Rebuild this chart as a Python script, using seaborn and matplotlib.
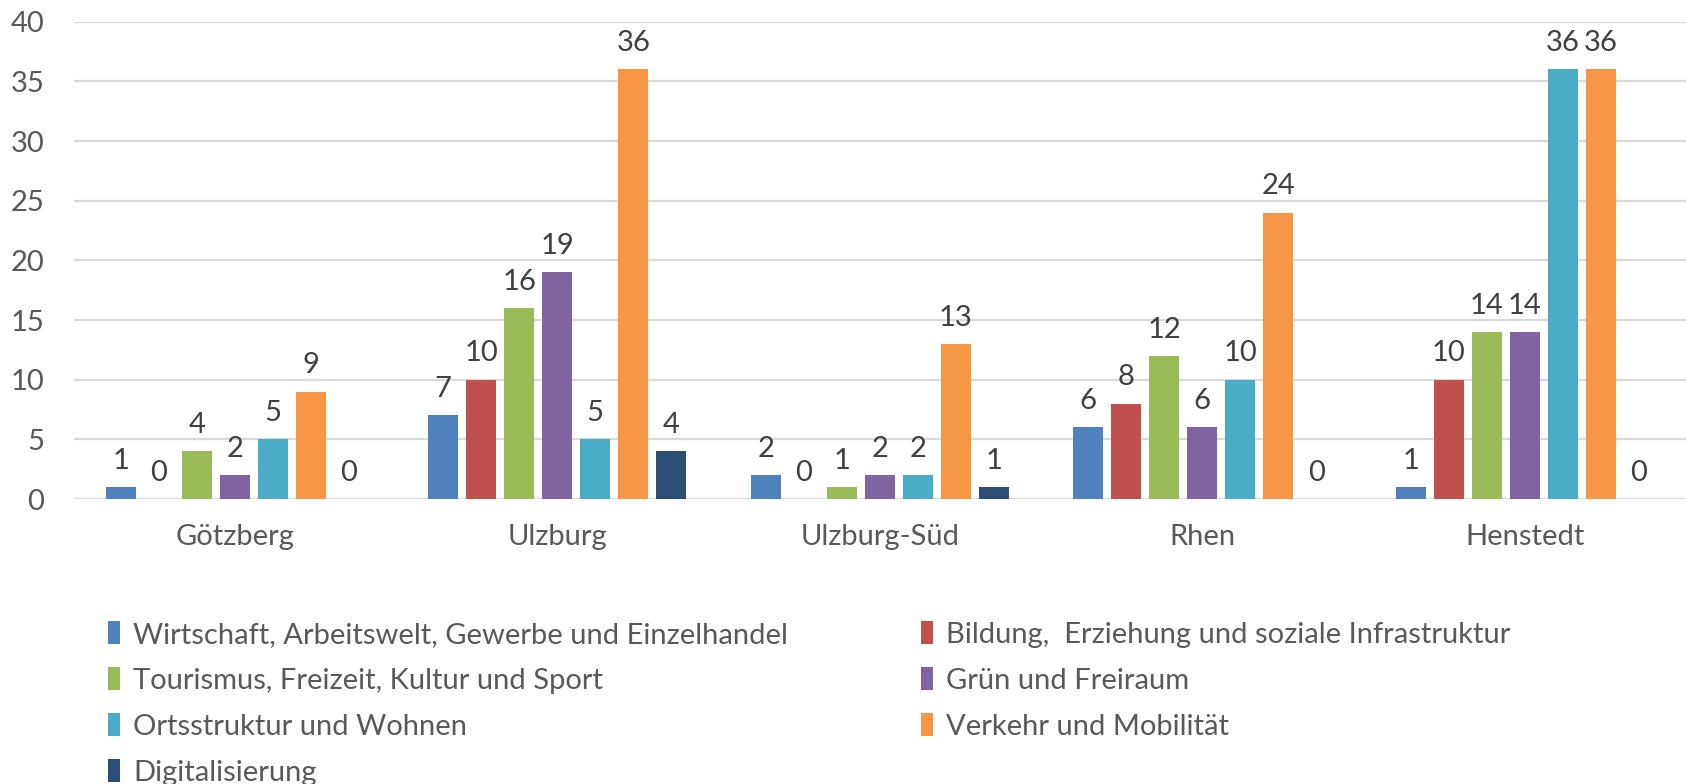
import matplotlib
matplotlib.use("Agg")
import matplotlib.pyplot as plt
import seaborn as sns
import pandas as pd
from matplotlib.patches import Patch

places = ["Götzberg", "Ulzburg", "Ulzburg-Süd", "Rhen", "Henstedt"]
themes = [
    "Wirtschaft, Arbeitswelt, Gewerbe und Einzelhandel",
    "Bildung,  Erziehung und soziale Infrastruktur",
    "Tourismus, Freizeit, Kultur und Sport",
    "Grün und Freiraum",
    "Ortsstruktur und Wohnen",
    "Verkehr und Mobilität",
    "Digitalisierung",
]
wirtschaft = [1, 7, 2, 6, 1]
bildung = [0, 10, 0, 8, 10]
tourismus = [4, 16, 1, 12, 14]
gruen = [2, 19, 2, 6, 14]
ortsstruktur = [5, 5, 2, 10, 36]
verkehr = [9, 36, 13, 24, 36]
digital = [0, 4, 1, 0, 0]
series = [wirtschaft, bildung, tourismus, gruen, ortsstruktur, verkehr, digital]
colors = ["#4F81BD", "#C0504D", "#9BBB59", "#8064A2", "#4BACC6", "#F79646", "#2C4D75"]
yticks = [0, 5, 10, 15, 20, 25, 30, 35, 40]

rows = []
for t, vals in zip(themes, series):
    for p, v in zip(places, vals):
        rows.append({"Ort": p, "Thema": t, "Anzahl": v})
df = pd.DataFrame(rows)

sns.set_theme(style="white")
plt.rcParams["font.family"] = ["Lato", "DejaVu Sans"]
txt = "#595959"
fs = 21

fig = plt.figure(figsize=(16.86, 7.84), dpi=100)
ax = fig.add_axes([73.5 / 1686, 1 - 499 / 784, (1686 - 73.5) / 1686, (499 - 21.7) / 784])

sns.barplot(data=df, x="Ort", y="Anzahl", hue="Thema", hue_order=themes, order=places,
            palette=colors, width=0.825, gap=0.21, ax=ax, legend=False,
            saturation=1, edgecolor="none", linewidth=0)

for cont in ax.containers:
    ax.bar_label(cont, fmt="%d", padding=9.5, fontsize=fs, color="#404040")

ax.set_ylim(0, 40)
ax.set_xlim(-0.5, len(places) - 0.5)
ax.set_yticks(yticks)
ax.set_yticklabels([str(v) for v in yticks])
ax.yaxis.grid(True, color="#D9D9D9", linewidth=1.6)
ax.set_axisbelow(True)
for s in ax.spines.values():
    s.set_visible(False)
ax.set_xlabel("")
ax.set_ylabel("")
ax.tick_params(axis="y", length=0, pad=21, labelsize=fs, labelcolor=txt)
ax.tick_params(axis="x", length=0, pad=18, labelsize=fs, labelcolor=txt)

handles = [Patch(facecolor=c, edgecolor="none") for c in colors]
col1 = [0, 2, 4, 6]
col2 = [1, 3, 5]
common = dict(frameon=False, fontsize=fs, labelcolor=txt, handlelength=0.42,
              handleheight=0.85, handletextpad=0.45, labelspacing=0.66,
              loc="upper left", borderaxespad=0, borderpad=0)
fig.legend([handles[i] for i in col1], [themes[i] for i in col1],
           bbox_to_anchor=(108 / 1686, 1 - 621 / 784), **common)
fig.legend([handles[i] for i in col2], [themes[i] for i in col2],
           bbox_to_anchor=(921 / 1686, 1 - 621 / 784), **common)

fig.savefig("out.png", dpi=100)
